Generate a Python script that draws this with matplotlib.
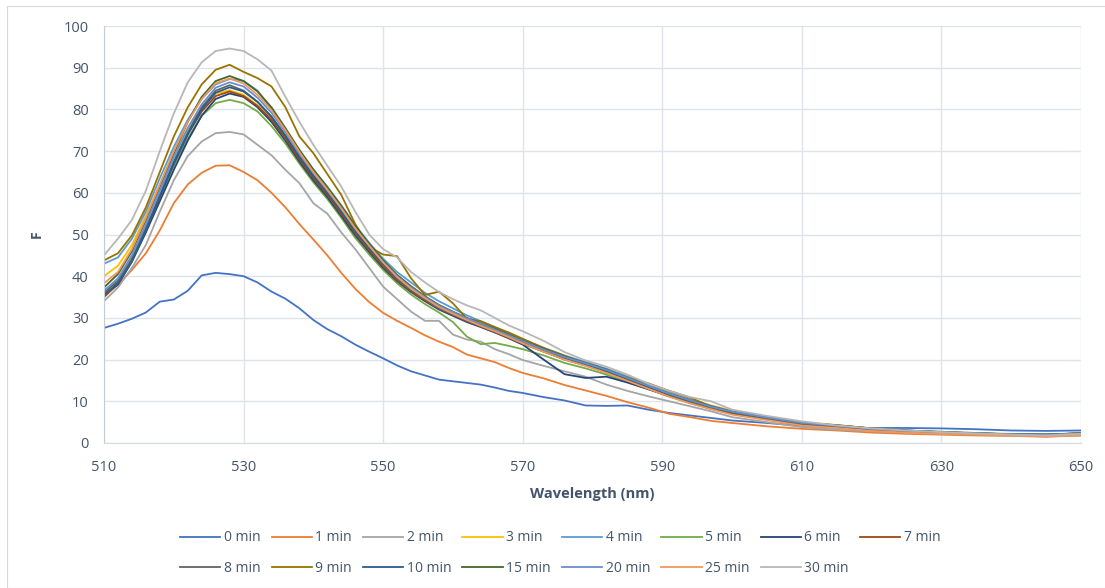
import matplotlib
matplotlib.use("Agg")
import matplotlib.pyplot as plt
from matplotlib.patches import Rectangle

wavelength = [510, 512, 514, 516, 518, 520, 522, 524, 526, 528, 530, 532, 534, 536, 538, 540,
              542, 544, 546, 548, 550, 552, 554, 556, 558, 560, 562, 564, 566, 568, 570, 573,
              576, 579, 582, 585, 588, 591, 594, 597, 600, 605, 610, 615, 620, 625, 630, 635,
              640, 645, 650]

labels = ["0 min", "1 min", "2 min", "3 min", "4 min", "5 min", "6 min", "7 min",
          "8 min", "9 min", "10 min", "15 min", "20 min", "25 min", "30 min"]

colors = ["#4472C4", "#ED7D31", "#A5A5A5", "#FFC000", "#5B9BD5", "#70AD47", "#264478",
          "#9E480E", "#636363", "#997300", "#255E91", "#43682B", "#698ED0", "#F1975A",
          "#B7B7B7"]

f_0 = [27.6, 28.6, 29.8, 31.3, 33.9, 34.4, 36.5, 40.2, 40.8, 40.5, 40.0, 38.5, 36.3, 34.6, 32.3, 29.5,
       27.3, 25.6, 23.6, 21.9, 20.3, 18.6, 17.2, 16.2, 15.2, 14.8, 14.4, 14.0, 13.3, 12.5, 12.0, 11.0,
       10.2, 9.0, 8.9, 9.0, 8.0, 7.2, 6.6, 6.0, 5.4, 4.8, 4.1, 3.7, 3.6, 3.6, 3.5, 3.3,
       3.0, 2.9, 3.0]
f_1 = [35.0, 38.0, 41.5, 45.5, 51.0, 57.5, 62.0, 64.8, 66.5, 66.6, 65.0, 63.0, 60.0, 56.5, 52.5, 48.8,
       45.0, 40.8, 37.0, 33.8, 31.2, 29.3, 27.6, 25.8, 24.3, 23.0, 21.2, 20.3, 19.4, 18.0, 16.8, 15.5,
       13.9, 12.6, 11.3, 9.8, 8.5, 7.0, 6.2, 5.3, 4.8, 4.0, 3.4, 3.0, 2.5, 2.2, 2.0, 1.8,
       1.7, 1.5, 1.8]
f_2 = [34.0, 37.3, 42.0, 47.5, 55.5, 63.0, 68.8, 72.3, 74.3, 74.6, 74.0, 71.5, 69.0, 65.5, 62.3, 57.5,
       55.0, 50.5, 46.5, 42.0, 37.5, 34.5, 31.5, 29.3, 29.3, 26.0, 24.8, 24.3, 22.5, 21.3, 19.9, 18.5,
       17.2, 15.9, 14.0, 12.5, 11.2, 10.0, 8.8, 7.6, 6.2, 5.0, 3.8, 3.2, 2.8, 2.5, 2.2, 2.0,
       1.8, 1.6, 1.8]
f_3 = [40.0, 42.5, 47.5, 54.5, 62.0, 69.5, 75.5, 80.5, 83.8, 84.6, 83.5, 81.0, 77.8, 73.5, 68.8, 64.5,
       60.5, 56.2, 51.5, 47.3, 43.5, 40.0, 37.2, 34.8, 32.8, 31.2, 29.8, 28.5, 27.2, 25.8, 24.4, 22.6,
       20.8, 19.4, 17.8, 16.0, 14.0, 12.2, 10.6, 9.0, 7.8, 6.3, 5.0, 4.3, 3.5, 3.0, 2.7, 2.4,
       2.2, 2.1, 2.3]
f_4 = [43.0, 44.5, 49.0, 55.5, 63.5, 71.0, 77.5, 82.5, 86.0, 87.3, 86.8, 84.5, 80.0, 75.0, 70.0, 65.5,
       61.5, 57.0, 52.3, 48.0, 44.2, 41.0, 38.5, 36.0, 34.0, 32.3, 30.6, 29.2, 27.8, 26.3, 24.8, 22.8,
       21.0, 19.4, 17.8, 15.9, 14.0, 12.0, 10.4, 8.9, 7.6, 6.2, 4.9, 4.2, 3.5, 3.0, 2.7, 2.4,
       2.1, 2.0, 2.3]
f_5 = [36.5, 39.0, 44.5, 51.5, 59.0, 66.5, 73.0, 78.5, 81.5, 82.3, 81.5, 79.5, 76.0, 71.8, 67.0, 62.5,
       58.5, 54.0, 49.2, 45.2, 41.5, 38.3, 35.6, 33.3, 31.3, 29.0, 25.5, 23.7, 24.0, 23.3, 22.5, 21.0,
       19.2, 17.9, 16.4, 14.6, 12.9, 11.2, 9.7, 8.3, 7.1, 5.8, 4.5, 3.9, 3.2, 2.8, 2.5, 2.2,
       2.0, 1.8, 2.1]
f_6 = [35.5, 38.0, 43.5, 50.5, 58.0, 65.5, 72.5, 78.5, 82.5, 83.8, 83.0, 80.5, 77.0, 72.5, 67.5, 63.0,
       59.0, 54.5, 49.8, 45.8, 42.0, 38.8, 36.2, 34.0, 32.0, 30.5, 29.0, 27.8, 26.5, 25.1, 23.6, 20.0,
       16.5, 15.6, 15.9, 14.5, 12.9, 11.2, 9.6, 8.2, 7.0, 5.7, 4.4, 3.8, 3.2, 2.8, 2.5, 2.2,
       2.0, 1.8, 2.1]
f_7 = [35.0, 38.5, 44.0, 51.0, 59.0, 67.0, 74.0, 79.5, 83.2, 84.3, 83.2, 80.8, 77.5, 73.0, 68.0, 63.5,
       59.5, 55.0, 50.3, 46.2, 42.3, 39.0, 36.4, 34.2, 32.2, 30.7, 29.2, 27.9, 26.6, 25.2, 23.8, 21.9,
       20.0, 18.6, 17.0, 15.2, 13.3, 11.5, 9.9, 8.5, 7.3, 5.9, 4.6, 4.0, 3.3, 2.8, 2.5, 2.2,
       2.0, 1.8, 2.2]
f_8 = [36.0, 38.8, 44.0, 51.5, 59.5, 67.5, 74.5, 80.5, 84.5, 85.8, 84.5, 81.8, 78.3, 73.8, 68.8, 64.2,
       60.0, 55.5, 50.7, 46.6, 42.7, 39.3, 36.6, 34.4, 32.3, 30.8, 29.3, 28.0, 26.7, 25.3, 23.9, 22.0,
       20.2, 18.8, 17.2, 15.3, 13.4, 11.6, 10.0, 8.6, 7.4, 6.0, 4.7, 4.0, 3.3, 2.8, 2.5, 2.2,
       2.0, 1.9, 2.2]
f_9 = [43.8, 45.5, 49.8, 56.5, 65.0, 73.5, 80.5, 86.0, 89.5, 90.7, 89.0, 87.5, 85.5, 80.5, 73.5, 69.5,
       64.5, 59.5, 52.5, 47.0, 45.2, 44.8, 39.5, 35.5, 36.3, 33.5, 29.8, 29.2, 27.8, 26.5, 25.0, 22.8,
       20.9, 19.0, 17.3, 15.7, 14.3, 12.5, 10.9, 8.7, 7.4, 6.0, 4.8, 4.3, 3.5, 3.0, 2.6, 2.3,
       2.1, 2.0, 2.4]
f_10 = [35.5, 38.2, 43.5, 51.0, 59.0, 67.0, 74.0, 80.0, 84.0, 85.3, 84.3, 81.8, 78.2, 73.6, 68.5, 64.0,
        60.0, 55.6, 50.8, 46.8, 43.0, 39.6, 36.9, 34.6, 32.5, 31.0, 29.5, 28.2, 26.9, 25.5, 24.1, 22.2,
        20.4, 18.9, 17.3, 15.4, 13.5, 11.7, 10.1, 8.7, 7.4, 6.0, 4.7, 4.1, 3.4, 2.9, 2.6, 2.3,
        2.1, 2.0, 2.3]
f_15 = [37.3, 40.5, 46.0, 53.5, 61.5, 69.5, 77.0, 83.0, 86.8, 88.0, 86.8, 84.3, 80.5, 75.5, 70.3, 65.6,
        61.3, 56.8, 52.0, 47.8, 43.8, 40.3, 37.6, 35.2, 33.1, 31.5, 30.0, 28.7, 27.4, 26.0, 24.5, 22.6,
        20.7, 19.2, 17.6, 15.6, 13.7, 11.8, 10.2, 8.8, 7.5, 6.1, 4.8, 4.2, 3.5, 3.0, 2.6, 2.3,
        2.1, 2.0, 2.3]
f_20 = [36.5, 39.5, 45.0, 52.5, 60.5, 68.5, 75.5, 81.2, 85.2, 86.5, 85.5, 82.8, 79.2, 74.5, 69.4, 64.8,
        60.6, 56.2, 51.4, 47.3, 43.4, 40.0, 37.3, 35.0, 32.9, 31.4, 29.9, 28.6, 27.2, 25.8, 24.4, 22.4,
        20.6, 19.1, 17.5, 15.6, 13.7, 11.8, 10.2, 8.7, 7.5, 6.1, 4.8, 4.1, 3.4, 2.9, 2.6, 2.3,
        2.1, 2.0, 2.3]
f_25 = [38.3, 41.0, 46.5, 54.0, 62.0, 70.0, 77.0, 82.5, 86.3, 87.4, 86.2, 83.5, 79.8, 75.0, 69.8, 65.0,
        60.8, 56.3, 51.5, 47.3, 43.3, 39.8, 37.0, 34.7, 32.6, 31.0, 29.5, 28.1, 26.8, 25.4, 23.9, 21.9,
        20.0, 18.5, 16.8, 14.9, 13.0, 11.1, 9.5, 8.1, 6.8, 5.5, 4.2, 3.6, 2.9, 2.5, 2.2, 2.0,
        1.8, 1.6, 1.9]
f_30 = [45.0, 49.0, 53.5, 60.5, 70.0, 79.0, 86.5, 91.3, 94.0, 94.6, 94.0, 92.0, 89.3, 83.0, 77.0, 71.5,
        66.5, 61.5, 55.5, 50.0, 46.5, 44.5, 41.0, 38.5, 36.2, 34.5, 33.0, 31.8, 30.0, 28.2, 26.8, 24.5,
        21.8, 19.8, 18.3, 16.4, 14.2, 12.5, 11.0, 10.0, 8.0, 6.5, 5.2, 4.2, 3.5, 3.0, 2.6, 2.3,
        2.0, 1.8, 2.2]

series = [f_0, f_1, f_2, f_3, f_4, f_5, f_6, f_7, f_8, f_9, f_10, f_15, f_20, f_25, f_30]

x_ticks = [510, 530, 550, 570, 590, 610, 630, 650]
y_ticks = [0, 10, 20, 30, 40, 50, 60, 70, 80, 90, 100]

plt.rcParams['font.family'] = ['Open Sans', 'DejaVu Sans']
text_color = "#44546A"
grid_color = "#DFE3EA"

fig = plt.figure(figsize=(11.05, 5.88), dpi=100)
fig.patches.append(Rectangle((7 / 1105, 0), 1.2, 1 - 6 / 588, transform=fig.transFigure,
                             fill=False, edgecolor="#D9D9D9", linewidth=0.8))
ax = fig.add_axes([104 / 1105, 1 - 443 / 588, (1081 - 104) / 1105, (443 - 26) / 588])

handles = []
for vals, lab, col in zip(series, labels, colors):
    h, = ax.plot(wavelength, vals, color=col, lw=1.3, label=lab, solid_joinstyle='round')
    handles.append(h)

ax.set_xlim(510, 650)
ax.set_ylim(0, 100)
ax.set_xticks(x_ticks)
ax.set_yticks(y_ticks)
ax.grid(True, color=grid_color, lw=1.0)
ax.set_axisbelow(True)
for s in ["top", "right"]:
    ax.spines[s].set_visible(False)
ax.spines["left"].set_color("#C5CDDA")
ax.spines["bottom"].set_color("#D5DAE3")
ax.tick_params(length=0, colors=text_color, labelsize=10.5)
ax.tick_params(axis="x", pad=12)
ax.tick_params(axis="y", pad=11)
ax.set_xlabel("Wavelength (nm)", fontsize=10.5, fontweight="bold", color=text_color, labelpad=9)
ax.set_ylabel("F", fontsize=10, fontweight="bold", color=text_color, labelpad=14)

order = [0, 8, 1, 9, 2, 10, 3, 11, 4, 12, 5, 13, 6, 14, 7]
leg = fig.legend([handles[i] for i in order], [labels[i] for i in order],
                 ncol=8, loc="center", bbox_to_anchor=(0.507, 1 - 553 / 588),
                 frameon=False, fontsize=10, handlelength=2.9, handletextpad=0.25,
                 columnspacing=0.8, labelspacing=1.1, labelcolor=text_color)

fig.savefig("out.png", dpi=100)
